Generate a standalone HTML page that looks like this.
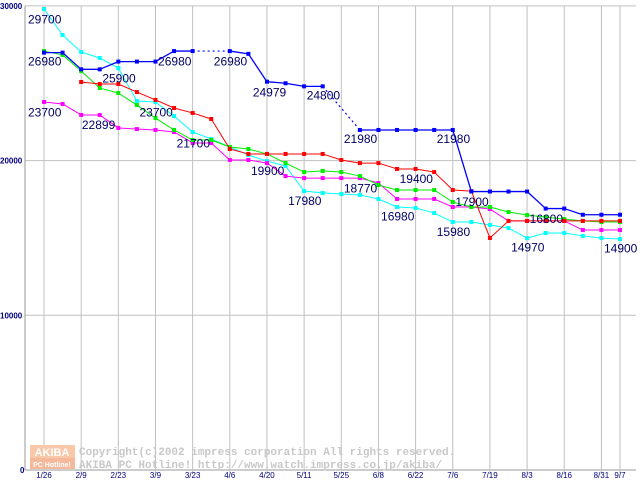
<!DOCTYPE html>
<html><head><meta charset="utf-8"><style>
body{margin:0;background:#fff;}
svg{display:block;font-family:"Liberation Sans",sans-serif;}
</style></head><body>
<svg id="chart" width="640" height="480" viewBox="0 0 640 480" xmlns="http://www.w3.org/2000/svg">
<g id="grid"></g>
<g id="wm">
  <rect x="30" y="445" width="45" height="13" fill="#f8c8a8"/>
  <rect x="30" y="458" width="45" height="11" fill="#f6b89a"/>
  <text x="52" y="456" font-size="11" font-weight="bold" fill="#fff" text-anchor="middle">AKIBA</text>
  <text x="52" y="467" font-size="7" font-weight="bold" fill="#fff" text-anchor="middle">PC Hotline!</text>
  <text x="79" y="455" font-family="Liberation Mono,monospace" font-size="11" font-weight="bold" fill="#c8c8c8">Copyright(c)2002 impress corporation All rights reserved.</text>
  <text x="79" y="468" font-family="Liberation Mono,monospace" font-size="11" font-weight="bold" fill="#c8c8c8">AKIBA PC Hotline!  http://www.watch.impress.co.jp/akiba/</text>
</g>
<g id="series"></g>
<g id="labels"></g>
</svg>
<script>
const xTickLabels = ["1/26","2/9","2/23","3/9","3/23","4/6","4/20","5/11","5/25","6/8","6/22","7/6","7/19","8/3","8/16","8/31","9/7"];
const xTickIndex = [0,2,4,6,8,10,12,14,16,18,20,22,24,26,28,30,31];
const yTicks = [0,10000,20000,30000];
const blueValues = [26980,26980,25900,25900,26400,26400,26400,27080,27080,null,27080,26900,25100,25000,24800,24800,null,21980,21980,21980,21980,21980,21980,18000,18000,18000,18000,16900,16900,16500,16500,16500];
const redValues = [null,null,25080,24950,24950,24430,23920,23400,23080,22690,20750,20430,20430,20430,20430,20430,20040,19840,19840,19460,19460,19260,18100,18030,15000,16100,16100,16100,16100,16100,16100,16100];
const greenValues = [27080,26830,25790,24690,24370,23590,22750,21980,21330,21330,20880,20750,20430,19840,19260,19330,19260,19000,18420,18100,18100,18100,17320,17000,17000,16680,16480,16350,16220,16100,16030,16030];
const magentaValues = [23790,23660,22950,22950,22110,22040,21980,21850,21140,21140,20040,20040,19840,19000,18870,18870,18870,18870,18550,17520,17520,17520,17000,17000,16870,16100,16100,16100,16100,15510,15510,15510];
const cyanValues = [29800,28120,27020,26630,25980,23850,23790,22880,21850,21400,20880,20360,19970,19650,18030,17910,17840,17780,17520,17000,16940,16610,16030,16030,15840,15640,14990,15320,15320,15130,14990,14930];
const labelTexts = ["29700","26980","25900","26980","26980","24979","24800","21980","21980","23700","22899","23700","21700","19900","17980","18770","19400","16980","17900","15980","16800","14970","14900"];
const labelIndex = [0,0,4.0,7.0,10.0,12.1,15.0,17.0,22.0,0,2.9,6.0,8.0,12.0,14.0,17.0,20.0,19.0,23.0,22.0,27.0,26.0,31.0];
const labelValues = [29700,26980,25900,26980,26980,24979,24800,21980,21980,23700,22899,23700,21700,19900,17980,18770,19400,16980,17900,15980,16800,14970,14900];

const NS="http://www.w3.org/2000/svg";
function xs(i){return 44+i*18.58;}
function ys(v){return 470-v*0.01547;}
function mk(tag,attrs,parent){const e=document.createElementNS(NS,tag);for(const k in attrs)e.setAttribute(k,attrs[k]);parent.appendChild(e);return e;}
const grid=document.getElementById('grid');
mk('rect',{x:0,y:0,width:640,height:480,fill:'#fff'},grid);
yTicks.forEach(v=>{
  const l=mk('line',{x1:25,x2:636,y1:ys(v),y2:ys(v),stroke:v===0?'#999':'#c0c0c0','stroke-width':1},grid);
  
  
  const t=mk('text',{x:v===0?20:0,y:ys(v)+3,'font-size':8,'font-weight':'bold',fill:'#000080'},grid);
  t.textContent=String(v);
  
  
});
mk('line',{x1:25,x2:25,y1:6,y2:470,stroke:'#999'},grid);
xTickIndex.forEach((i,k)=>{
  const l=mk('line',{x1:xs(i),x2:xs(i),y1:6,y2:474,stroke:'#c0c0c0'},grid);
  
  
  const t=mk('text',{x:xs(i),y:478,'font-size':8,fill:'#000080','text-anchor':'middle'},grid);
  t.textContent=xTickLabels[k];
  
  
});
const sg=document.getElementById('series');
function drawSeries(vals,color,name){
  const g=mk('g',{},sg);
  
  
  let prev=-1, gap=false;
  vals.forEach((v,i)=>{
    if(v===null){gap=true;return;}
    if(prev>=0){
      const a={x1:xs(prev),y1:ys(vals[prev]),x2:xs(i),y2:ys(v),stroke:color,'stroke-width':gap?1.2:(color==='#0000ff'?1.3:1)};
      if(gap)a['stroke-dasharray']='2,3';
      const l=mk('line',a,g);
      
      
    }
    const p=mk('rect',{x:xs(i)-2,y:ys(v)-2,width:4,height:4,fill:color},g);
    
    
    prev=i;gap=false;
  });
}
drawSeries(cyanValues,'#00ffff','cyan-series');
drawSeries(magentaValues,'#ff00ff','magenta-series');
drawSeries(greenValues,'#00ee00','green-series');
drawSeries(redValues,'#ff0000','red-series');
drawSeries(blueValues,'#0000ff','blue-series');
const lg=document.getElementById('labels');
labelTexts.forEach((s,k)=>{
  const t=mk('text',{x:xs(labelIndex[k])-16,y:ys(labelValues[k])+13,'font-size':12,fill:'#000066'},lg);
  t.textContent=s;
  
  
});
</script>
</body></html>
